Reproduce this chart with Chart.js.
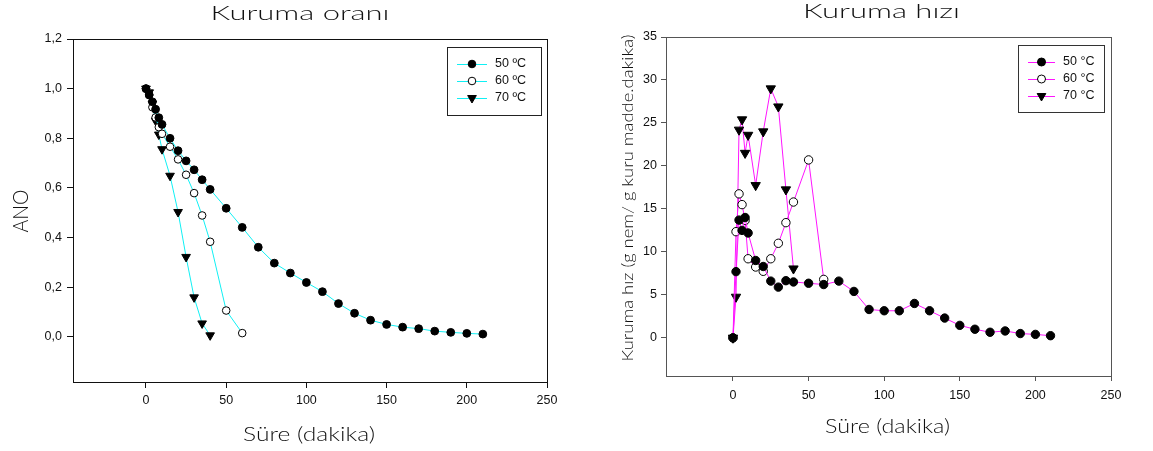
<!DOCTYPE html>
<html>
<head>
<meta charset="utf-8">
<script src="https://cdn.jsdelivr.net/npm/chart.js@4/dist/chart.umd.min.js"></script>
<style>
body { margin: 0; background: #fff; width: 1153px; height: 451px; overflow: hidden; position: relative; }
.box { position: absolute; top: 0; height: 451px; }
</style>
</head>
<body>
<div class="box" style="left:0;width:580px"><canvas id="oran"></canvas></div>
<div class="box" style="left:580px;width:573px"><canvas id="hiz"></canvas></div>
<script>
// sampling times (dakika)
const time50 = [0, 2, 4, 6, 8, 10, 15, 20, 25, 30, 35, 40, 50, 60, 70, 80, 90, 100, 110, 120, 130, 140, 150, 160, 170, 180, 190, 200, 210];
const time60 = [0, 2, 4, 6, 8, 10, 15, 20, 25, 30, 35, 40, 50, 60];
const time70 = [0, 2, 4, 6, 8, 10, 15, 20, 25, 30, 35, 40];

// ANO (kuruma orani)
const ano50 = [1.0, 0.975, 0.947, 0.917, 0.883, 0.856, 0.80, 0.75, 0.709, 0.673, 0.633, 0.594, 0.518, 0.441, 0.361, 0.297, 0.257, 0.219, 0.182, 0.134, 0.095, 0.067, 0.050, 0.039, 0.033, 0.023, 0.018, 0.014, 0.011];
const ano60 = [1.0, 0.974, 0.925, 0.884, 0.845, 0.818, 0.766, 0.715, 0.653, 0.579, 0.489, 0.383, 0.106, 0.015];
const ano70 = [1.0, 0.985, 0.94, 0.871, 0.815, 0.756, 0.649, 0.503, 0.322, 0.159, 0.054, 0.006];

// kuruma hizi
const hiz50 = [0, 7.7, 13.7, 12.5, 14.0, 12.2, 9.0, 8.3, 6.6, 5.9, 6.65, 6.5, 6.35, 6.2, 6.6, 5.4, 3.3, 3.15, 3.15, 4.0, 3.15, 2.3, 1.45, 1.0, 0.65, 0.8, 0.5, 0.4, 0.25];
const hiz60 = [0, 12.35, 16.75, 15.5, 13.65, 9.2, 8.24, 7.74, 9.2, 11.0, 13.4, 15.8, 20.7, 6.8];
const hiz70 = [0, 4.76, 24.2, 25.4, 21.5, 23.6, 17.75, 24.0, 29.0, 26.9, 17.25, 8.05];

// tick labels and legend labels
const xTicks = [0, 50, 100, 150, 200, 250];
const anoTicks = [0, 0.2, 0.4, 0.6, 0.8, 1.0, 1.2];
const hizTicks = [0, 5, 10, 15, 20, 25, 30, 35];
const oranLabels = ['50 ºC', '60 ºC', '70 ºC'];
const hizLabels = ['50 °C', '60 °C', '70 °C'];

const TICK_FONT = { family: 'Liberation Sans', size: 12.5 };

function pts(xs, ys) {
	return xs.map((x, i) => ({ x: x, y: ys[i] }));
}

// one line+marker series
function series(label, xs, ys, color, mark, r) {
	return {
		label: label,
		data: pts(xs, ys),
		showLine: true,
		borderColor: color,
		borderWidth: 1,
		tension: 0,
		mark: mark,
		pointStyle: mark == 'tri' ? 'triangle' : 'circle',
		pointRotation: mark == 'tri' ? 180 : 0,
		pointRadius: r,
		pointHoverRadius: r,
		pointBackgroundColor: mark == 'open' ? '#fff' : '#000',
		pointBorderColor: '#000',
		pointBorderWidth: 1
	};
}

function drawMark(ctx, mark, x, y, r) {
	ctx.beginPath();
	if (mark == 'tri') {
		ctx.moveTo(x, y + r);
		ctx.lineTo(x - r * 0.866, y - r * 0.5);
		ctx.lineTo(x + r * 0.866, y - r * 0.5);
		ctx.closePath();
	} else {
		ctx.arc(x, y, r, 0, Math.PI * 2);
	}
	ctx.fillStyle = mark == 'open' ? '#fff' : '#000';
	ctx.fill();
	ctx.strokeStyle = '#000';
	ctx.lineWidth = 1;
	ctx.stroke();
}

// frame round the plot area
const frame = {
	id: 'frame',
	beforeDatasetsDraw(chart, args, opts) {
		const a = chart.chartArea, ctx = chart.ctx;
		ctx.save();
		ctx.strokeStyle = opts.color;
		ctx.lineWidth = 1;
		ctx.strokeRect(Math.round(a.left) + 0.5, Math.round(a.top) + 0.5, Math.round(a.right - a.left), Math.round(a.bottom - a.top));
		ctx.restore();
	}
};

// boxed legend inside the plot
const boxLegend = {
	id: 'boxLegend',
	afterDatasetsDraw(chart, args, opts) {
		const a = chart.chartArea, ctx = chart.ctx;
		const x = Math.round(a.right - opts.right - opts.width), y = Math.round(a.top + opts.top);
		ctx.save();
		ctx.fillStyle = '#fff';
		ctx.fillRect(x, y, opts.width, opts.height);
		ctx.strokeStyle = opts.border;
		ctx.lineWidth = 1;
		ctx.strokeRect(x + 0.5, y + 0.5, opts.width, opts.height);
		chart.data.datasets.forEach((ds, i) => {
			const cy = y + opts.firstRow + i * opts.rowGap;
			ctx.strokeStyle = ds.borderColor;
			ctx.lineWidth = 1;
			ctx.beginPath();
			ctx.moveTo(x + opts.lineStart, cy + 0.5);
			ctx.lineTo(x + opts.lineEnd, cy + 0.5);
			ctx.stroke();
			drawMark(ctx, ds.mark, x + (opts.lineStart + opts.lineEnd) / 2, cy, ds.mark == 'tri' ? opts.tri : opts.dot);
			ctx.fillStyle = '#111';
			ctx.font = '12.5px "Liberation Sans"';
			ctx.textBaseline = 'middle';
			ctx.textAlign = 'left';
			ctx.fillText(ds.label, x + opts.textX, cy);
		});
		ctx.restore();
	}
};

// titles and axis titles, squeezed/stretched to the reference widths
const texts = {
	id: 'texts',
	afterDraw(chart, args, opts) {
		const ctx = chart.ctx;
		opts.items.forEach(t => {
			ctx.save();
			ctx.font = '300 ' + t.size + 'px ' + opts.family;
			ctx.fillStyle = '#111';
			ctx.textAlign = 'center';
			const s = t.width / ctx.measureText(t.text).width;
			ctx.translate(t.x, t.y);
			if (t.vertical) {
				ctx.scale(t.thick, s);
				ctx.rotate(-Math.PI / 2);
				ctx.textBaseline = 'middle';
			} else {
				ctx.scale(s, 1);
				ctx.textBaseline = 'alphabetic';
			}
			ctx.fillText(t.text, 0, 0);
			ctx.restore();
		});
	}
};

function axis(min, max, ticks, fmt, size, tickLen, pad, lineColor) {
	return {
		type: 'linear',
		min: min,
		max: max,
		afterBuildTicks: s => { s.ticks = ticks.map(v => ({ value: v })); },
		afterFit: s => { if (s.isHorizontal()) s.height = size; else s.width = size; },
		border: { display: true, color: lineColor, width: 1 },
		grid: { display: true, drawOnChartArea: false, drawTicks: true, tickLength: tickLen, tickColor: lineColor, color: lineColor },
		ticks: { color: '#111', font: TICK_FONT, padding: pad, maxRotation: 0, autoSkip: false, callback: fmt }
	};
}

function makeChart(id, datasets, scales, padding, plugins) {
	return new Chart(document.getElementById(id), {
		type: 'scatter',
		data: { datasets: datasets },
		options: {
			responsive: true,
			maintainAspectRatio: false,
			animation: false,
			events: [],
			layout: { padding: padding },
			scales: scales,
			plugins: Object.assign({ legend: { display: false }, tooltip: { enabled: false } }, plugins)
		},
		plugins: [frame, boxLegend, texts]
	});
}

const CYAN = '#10f0f4';
const MAGENTA = '#ff14ff';

makeChart('oran', [
	series(oranLabels[0], time50, ano50, CYAN, 'dot', 3.9),
	series(oranLabels[1], time60, ano60, CYAN, 'open', 3.8),
	series(oranLabels[2], time70, ano70, CYAN, 'tri', 5)
], {
	x: axis(-45.5, 250, xTicks, v => v, 69, 6, 5, '#111'),
	y: axis(-0.182, 1.2, anoTicks, v => v.toFixed(1).replace('.', ','), 73, 6, 5, '#111')
}, { top: 39, right: 33, left: 0, bottom: 0 }, {
	frame: { color: '#111' },
	boxLegend: { right: 6, top: 8, width: 94, height: 68, firstRow: 17, rowGap: 17, lineStart: 10, lineEnd: 40, textX: 48, border: '#222', dot: 3.8, tri: 5 },
	texts: {
		family: 'Lato',
		items: [
			{ text: 'Kuruma oranı', x: 300, y: 20, size: 19, width: 179 },
			{ text: 'Süre (dakika)', x: 309, y: 441, size: 19, width: 132 },
			{ text: 'ANO', x: 21, y: 211, size: 20, width: 43, vertical: true, thick: 1.05 }
		]
	}
});

makeChart('hiz', [
	series(hizLabels[0], time50, hiz50, MAGENTA, 'dot', 4.2),
	series(hizLabels[1], time60, hiz60, MAGENTA, 'open', 4.2),
	series(hizLabels[2], time70, hiz70, MAGENTA, 'tri', 5.4)
], {
	x: axis(-44.3, 250, xTicks, v => v, 75, 5, 7, '#555'),
	y: axis(-4.44, 35, hizTicks, v => v, 86, 5, 4, '#555')
}, { top: 37, right: 42, left: 0, bottom: 0 }, {
	frame: { color: '#555' },
	boxLegend: { right: 7, top: 8, width: 86, height: 67, firstRow: 17, rowGap: 17, lineStart: 10, lineEnd: 37, textX: 45, border: '#333', dot: 4, tri: 5 },
	texts: {
		family: 'Lato',
		items: [
			{ text: 'Kuruma hızı', x: 301.5, y: 18, size: 19, width: 157 },
			{ text: 'Süre (dakika)', x: 307.5, y: 433, size: 19, width: 125 },
			{ text: 'Kuruma hız (g nem/ g kuru madde.dakika)', x: 48, y: 198, size: 14, width: 327, vertical: true, thick: 1.1 }
		]
	}
});
</script>
</body>
</html>
